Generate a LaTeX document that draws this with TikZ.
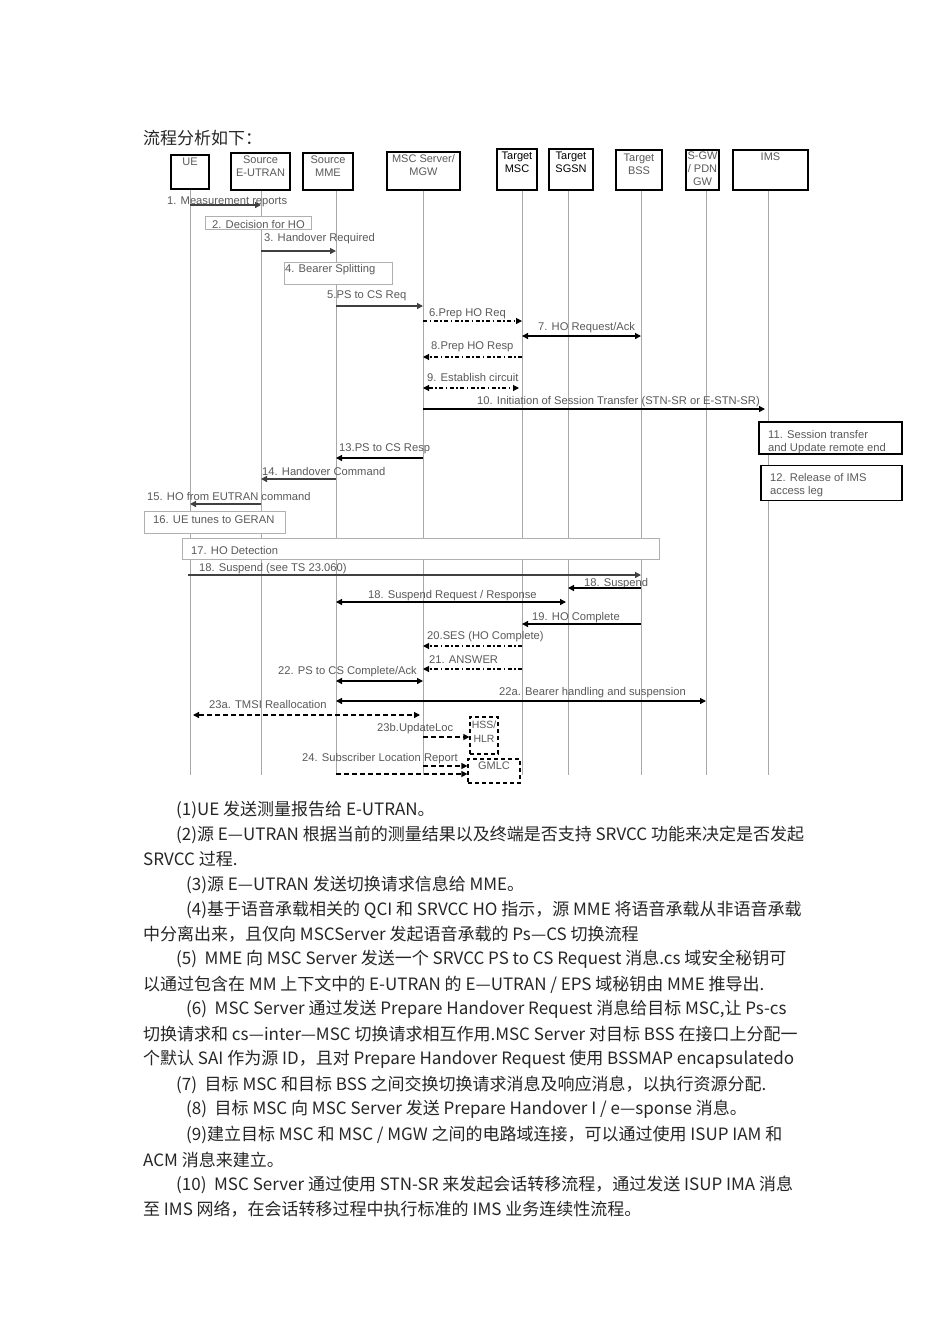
\documentclass[tikz,border=0pt]{standalone}
\usepackage{fontspec}
\setmainfont{Liberation Sans}
\newfontfamily\cjk{Noto Sans CJK SC}
\usetikzlibrary{arrows.meta}
\definecolor{lblgray}{HTML}{5A5A5A}
\definecolor{linegray}{HTML}{A8A8A8}
\definecolor{boxgray}{HTML}{B0B0B0}
\definecolor{bodyc}{HTML}{262626}
\begin{document}
\begin{tikzpicture}[x=1pt,y=-1pt,
  hdrbox/.style={draw=black,line width=1.2pt,fill=white,inner sep=0pt},
  hdrtxt/.style={anchor=north,align=center,inner sep=0pt,font=\fontsize{11}{13}\selectfont,text=lblgray},
  life/.style={draw=linegray,line width=0.9pt},
  lbl/.style={anchor=west,inner sep=0pt,yshift=-1.5pt,font=\fontsize{11.2}{13}\selectfont,text=lblgray},
  notebox/.style={draw=boxgray,line width=0.8pt,fill=white,inner sep=0pt},
  blkbox/.style={draw=black,line width=1.2pt,fill=white,inner sep=0pt},
  tip/.style={-{Triangle[length=6pt,width=6pt]}},
  btip/.style={{Triangle[length=6pt,width=6pt]}-{Triangle[length=6pt,width=6pt]}},
  sol/.style={draw=black!75,line width=1.3pt},
  dd/.style={draw=black,line width=1.1pt,dash pattern=on 4pt off 2.5pt on 1.5pt off 2.5pt},
  dsh/.style={draw=black,line width=1.3pt,dash pattern=on 5pt off 3pt},
  body/.style={anchor=west,inner sep=0pt,yshift=-1.5pt,font=\cjk\fontsize{17}{20}\selectfont,text=bodyc}
]
\useasboundingbox (0,0) rectangle (950,1344);
\fill[white] (0,0) rectangle (950,1344);

\node[body] (title) at (143,137) {流程分析如下：};

% lifeline tops
\coordinate (lUE) at (190,189);
\coordinate (lEU) at (261,189);
\coordinate (lMME) at (336,189);
\coordinate (lMSC) at (423,189);
\coordinate (lTM) at (522,189);
\coordinate (lSG) at (568,189);
\coordinate (lBSS) at (641,189);
\coordinate (lGW) at (706,189);
\coordinate (lIMS) at (768,189);
\coordinate (bot) at (0,775);
\foreach \n in {lUE,lEU,lMME,lMSC,lTM,lSG,lBSS,lGW,lIMS}
  \draw[life] (\n) -- (\n |- bot);

% headers
\node[hdrbox,minimum width=38pt,minimum height=34pt] (ue) at (190,172) {};
\node[hdrtxt] at ([yshift=-3pt]ue.north) {UE};
\node[hdrbox,minimum width=59pt,minimum height=37pt] (eu) at (260.5,171.5) {};
\node[hdrtxt] at ([yshift=-3.5pt]eu.north) {Source\\E-UTRAN};
\node[hdrbox,minimum width=50pt,minimum height=37pt] (mme) at (328,171.5) {};
\node[hdrtxt] at ([yshift=-3.5pt]mme.north) {Source\\MME};
\node[hdrbox,minimum width=73pt,minimum height=38pt] (msc) at (423.5,171) {};
\node[hdrtxt] at ([yshift=-2.5pt]msc.north) {MSC Server/\\MGW};
\node[hdrbox,minimum width=40pt,minimum height=41pt] (tm) at (517,169.5) {};
\node[hdrtxt,text=black] at ([yshift=-3pt]tm.north) {Target\\MSC};
\node[hdrbox,minimum width=44pt,minimum height=41pt] (sg) at (571,169.5) {};
\node[hdrtxt,text=black] at ([yshift=-3pt]sg.north) {Target\\SGSN};
\node[hdrbox,minimum width=46pt,minimum height=40pt] (bss) at (639,170) {};
\node[hdrtxt] at ([yshift=-4pt]bss.north) {Target\\BSS};
\node[hdrbox,minimum width=33pt,minimum height=40pt] (gw) at (702.5,170) {};
\node[hdrtxt] at ([yshift=-2.5pt]gw.north) {S-GW\\/ PDN\\GW};
\node[hdrbox,minimum width=75pt,minimum height=40pt] (ims) at (770.5,170) {};
\node[hdrtxt] at ([yshift=-3pt]ims.north) {IMS};

% 1
\node[lbl] (m1) at (167,200) {1. Measurement reports};
\draw[sol,tip] (lUE |- 0,205) -- (lEU |- 0,205);
% 2
\node[notebox,minimum width=106pt,minimum height=13pt] (n2) at (258,222.5) {};
\node[lbl] at (212,222.5) {2. Decision for HO};
% 3
\node[lbl] (m3) at (264,237) {3. Handover Required};
\draw[sol,tip] (lEU |- 0,251) -- (lMME |- 0,251);
% 4
\node[notebox,minimum width=108pt,minimum height=22pt] (n4) at (338,273) {};
\node[lbl] at (285,268) {4. Bearer Splitting};
% 5
\node[lbl] (m5) at (327,294) {5.PS to CS Req};
\draw[sol,tip] (lMME |- 0,306) -- (lMSC |- 0,306);
% 6
\node[lbl] (m6) at (429,312) {6.Prep HO Req};
\draw[dd,tip] (lMSC |- 0,321) -- (lTM |- 0,321);
% 7
\node[lbl] (m7) at (538,326) {7. HO Request/Ack};
\draw[sol,draw=black,btip] (lTM |- 0,336) -- (lBSS |- 0,336);
% 8
\node[lbl] (m8) at (431,345) {8.Prep HO Resp};
\draw[dd,tip] (lTM |- 0,357) -- (lMSC |- 0,357);
% 9
\node[lbl] (m9) at (427,376) {9. Establish circuit};
\draw[dd,btip] (lMSC |- 0,388) -- ([xshift=-3pt]lTM |- 0,388);
% 10
\node[lbl] (m10) at (477,400) {10. Initiation of Session Transfer (STN-SR or E-STN-SR)};
\draw[sol,draw=black,tip] (lMSC |- 0,409) -- ([xshift=-3pt]lIMS |- 0,409);
% 11
\node[blkbox,minimum width=143pt,minimum height=32pt] (n11) at (830.5,438) {};
\node[lbl,align=left,anchor=north west,yshift=0pt] at (768,429) {11. Session transfer\\and Update remote end};
% 12
\node[blkbox,minimum width=141pt,minimum height=35pt] (n12) at (831.5,483) {};
\node[lbl,align=left,anchor=north west,yshift=0pt] at (770,472) {12. Release of IMS\\access leg};
% 13
\node[lbl] (m13) at (339,447) {13.PS to CS Resp};
\draw[sol,draw=black,tip] (lMSC |- 0,458) -- (lMME |- 0,458);
% 14
\node[lbl] (m14) at (262,470) {14. Handover Command};
\draw[sol,tip] (lMME |- 0,479) -- (lEU |- 0,479);
% 15
\node[lbl] (m15) at (147,494.5) {15. HO from EUTRAN command};
\draw[sol,tip] (lEU |- 0,504) -- (lUE |- 0,504);
% 16
\node[notebox,minimum width=141pt,minimum height=22pt] (n16) at (214.5,522) {};
\node[lbl] at (153,518) {16. UE tunes to GERAN};
% 17
\node[notebox,minimum width=477pt,minimum height=21pt] (n17) at (420.5,548.5) {};
\node[lbl] at (191,549) {17. HO Detection};
% 18
\node[lbl] (m18) at (199,567) {18. Suspend (see TS 23.060)};
\draw[sol,tip] ([xshift=-2pt]lUE |- 0,575) -- (lBSS |- 0,575);
\node[lbl] (m18b) at (584,582) {18. Suspend};
\draw[sol,draw=black,tip] (lBSS |- 0,588) -- (lSG |- 0,588);
\node[lbl] (m18c) at (368,594) {18. Suspend Request / Response};
\draw[sol,draw=black,btip] (lMME |- 0,602) -- ([xshift=-2pt]lSG |- 0,602);
% 19
\node[lbl] (m19) at (532,616) {19. HO Complete};
\draw[sol,draw=black,tip] (lBSS |- 0,624) -- (lTM |- 0,624);
% 20
\node[lbl] (m20) at (427,635) {20.SES (HO Complete)};
\draw[dd,tip] (lTM |- 0,646) -- (lMSC |- 0,646);
% 21
\node[lbl] (m21) at (429,658) {21. ANSWER};
\draw[dd,tip] (lTM |- 0,669) -- (lMSC |- 0,669);
% 22
\node[lbl] (m22) at (278,670) {22. PS to CS Complete/Ack};
\draw[sol,draw=black,btip] (lMME |- 0,681) -- (lMSC |- 0,681);
\node[lbl] (m22a) at (499,691.5) {22a. Bearer handling and suspension};
\draw[sol,draw=black,btip] (lMME |- 0,701) -- (lGW |- 0,701);
% 23a
\node[lbl] (m23a) at (209,703) {23a. TMSI Reallocation};
\draw[dsh,btip] ([xshift=3pt]lUE |- 0,715) -- ([xshift=-3pt]lMSC |- 0,715);
% HSS/HLR
\node[draw=black,line width=1.2pt,dash pattern=on 4pt off 3pt,minimum width=28pt,minimum height=37pt,inner sep=0pt] (hss) at (484,735.5) {};
\node[hdrtxt,font=\fontsize{10.5}{14}\selectfont] at ([yshift=-4pt]hss.north) {HSS/\\HLR};
% 23b
\node[lbl] (m23b) at (377,727) {23b.UpdateLoc};
\draw[dsh,tip] (lMSC |- 0,737) -- (hss.west |- 0,737);
% GMLC
\node[draw=black,line width=1.2pt,dash pattern=on 4pt off 3pt,minimum width=52pt,minimum height=24pt,inner sep=0pt] (gmlc) at (494,771) {};
\node[hdrtxt] at ([yshift=-3pt]gmlc.north) {GMLC};
% 24
\node[lbl] (m24) at (302,757) {24. Subscriber Location Report};
\draw[dsh,tip] (lMSC |- 0,766) -- (gmlc.west |- 0,766);
\draw[dsh,tip] (lMME |- 0,774) -- (gmlc.west |- 0,774);

% body text
\node[body] (t1) at (176,808) {(1)UE 发送测量报告给 E-UTRAN。};
\node[body] (t2) at (176,833) {(2)源 E—UTRAN 根据当前的测量结果以及终端是否支持 SRVCC 功能来决定是否发起};
\node[body] (t3) at (143,858) {SRVCC 过程.};
\node[body] (t4) at (186,883) {(3)源 E—UTRAN 发送切换请求信息给 MME。};
\node[body] (t5) at (186,908) {(4)基于语音承载相关的 QCI 和 SRVCC HO 指示，源 MME 将语音承载从非语音承载};
\node[body] (t6) at (143,933) {中分离出来，且仅向 MSCServer 发起语音承载的 Ps—CS 切换流程};
\node[body] (t7) at (176,958) {(5)\ \ MME 向 MSC Server 发送一个 SRVCC PS to CS Request 消息.cs 域安全秘钥可};
\node[body] (t8) at (143,983) {以通过包含在 MM 上下文中的 E-UTRAN 的 E—UTRAN / EPS 域秘钥由 MME 推导出.};
\node[body] (t9) at (186,1008) {(6)\ \ MSC Server 通过发送 Prepare Handover Request 消息给目标 MSC,让 Ps-cs};
\node[body] (t10) at (143,1033) {切换请求和 cs—inter—MSC 切换请求相互作用.MSC Server 对目标 BSS 在接口上分配一};
\node[body] (t11) at (143,1058) {个默认 SAI 作为源 ID，且对 Prepare Handover Request 使用 BSSMAP encapsulatedo};
\node[body] (t12) at (176,1083) {(7)\ \ 目标 MSC 和目标 BSS 之间交换切换请求消息及响应消息，以执行资源分配.};
\node[body] (t13) at (186,1108) {(8)\ \ 目标 MSC 向 MSC Server 发送 Prepare Handover I / e—sponse 消息。};
\node[body] (t14) at (186,1133) {(9)建立目标 MSC 和 MSC / MGW 之间的电路域连接，可以通过使用 ISUP IAM 和};
\node[body] (t15) at (143,1158) {ACM 消息来建立。};
\node[body] (t16) at (176,1183) {(10)\ \ MSC Server 通过使用 STN-SR 来发起会话转移流程，通过发送 ISUP IMA 消息};
\node[body] (t17) at (143,1208) {至 IMS 网络，在会话转移过程中执行标准的 IMS 业务连续性流程。};
\end{tikzpicture}
\end{document}
